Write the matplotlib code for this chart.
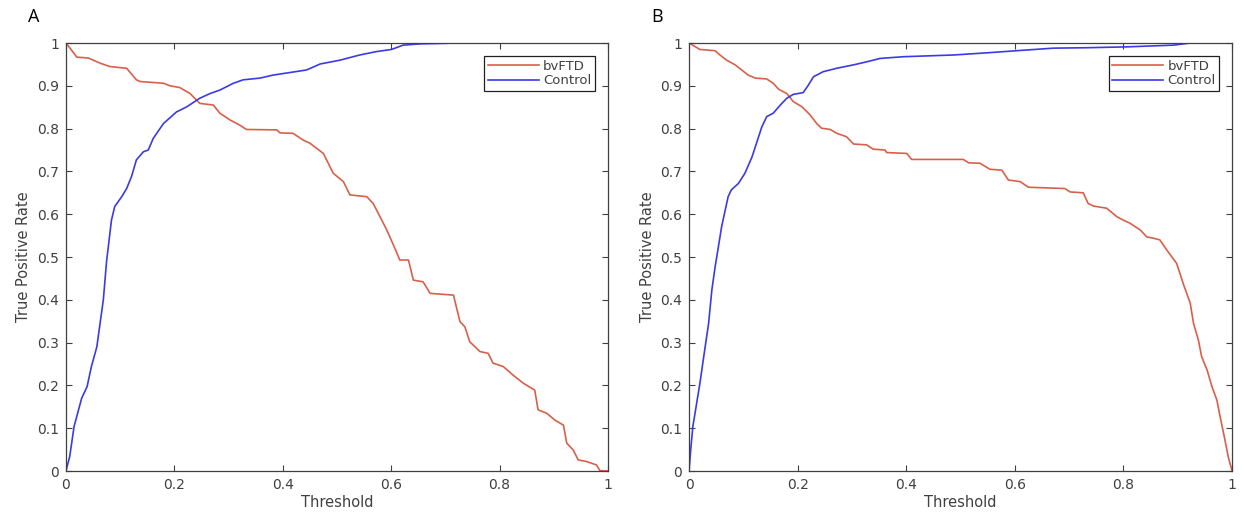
import numpy as np
import matplotlib
matplotlib.use("Agg")
import matplotlib.pyplot as plt

# panel A, bvFTD (threshold, TPR)
a_ftd_x = [0, 0.010, 0.020, 0.041, 0.063, 0.081, 0.112, 0.130, 0.137, 0.180, 0.192, 0.210,
           0.229, 0.247, 0.272, 0.284, 0.303, 0.321, 0.333, 0.389, 0.395, 0.419, 0.438,
           0.450, 0.475, 0.493, 0.512, 0.524, 0.555, 0.567, 0.592, 0.607, 0.616, 0.632,
           0.641, 0.659, 0.672, 0.715, 0.727, 0.736, 0.745, 0.764, 0.779, 0.788, 0.807,
           0.825, 0.844, 0.865, 0.871, 0.887, 0.902, 0.918, 0.924, 0.936, 0.945, 0.961,
           0.979, 0.985, 1.0]
a_ftd_y = [1.0, 0.984, 0.967, 0.965, 0.953, 0.945, 0.941, 0.914, 0.910, 0.906, 0.900, 0.896,
           0.882, 0.859, 0.855, 0.836, 0.820, 0.808, 0.798, 0.797, 0.790, 0.789, 0.773,
           0.766, 0.742, 0.696, 0.676, 0.645, 0.641, 0.625, 0.563, 0.520, 0.493, 0.493,
           0.446, 0.442, 0.415, 0.411, 0.349, 0.337, 0.302, 0.279, 0.275, 0.252, 0.244,
           0.224, 0.205, 0.189, 0.143, 0.135, 0.119, 0.107, 0.065, 0.049, 0.026, 0.022,
           0.014, 0.001, 0.0]

# panel A, Control
a_ctl_x = [0, 0.007, 0.015, 0.029, 0.039, 0.047, 0.057, 0.063, 0.069, 0.075, 0.084, 0.090,
           0.103, 0.112, 0.121, 0.130, 0.143, 0.152, 0.161, 0.180, 0.204, 0.223, 0.247,
           0.266, 0.284, 0.309, 0.327, 0.358, 0.382, 0.413, 0.444, 0.469, 0.506, 0.542,
           0.573, 0.601, 0.622, 0.653, 0.690, 0.720, 1.0]
a_ctl_y = [0, 0.034, 0.104, 0.170, 0.197, 0.244, 0.290, 0.345, 0.400, 0.490, 0.586, 0.618,
           0.641, 0.660, 0.688, 0.727, 0.746, 0.750, 0.777, 0.812, 0.839, 0.851, 0.871,
           0.882, 0.890, 0.906, 0.914, 0.918, 0.925, 0.931, 0.937, 0.951, 0.960, 0.972,
           0.980, 0.985, 0.995, 0.998, 0.999, 1.0, 1.0]

# panel B, bvFTD
b_ftd_x = [0, 0.020, 0.048, 0.057, 0.069, 0.085, 0.097, 0.109, 0.122, 0.143, 0.155, 0.165,
           0.180, 0.192, 0.208, 0.223, 0.235, 0.244, 0.260, 0.272, 0.290, 0.303, 0.327,
           0.339, 0.361, 0.364, 0.401, 0.410, 0.505, 0.515, 0.536, 0.554, 0.576, 0.588,
           0.610, 0.625, 0.692, 0.702, 0.726, 0.735, 0.745, 0.769, 0.788, 0.800, 0.812,
           0.831, 0.843, 0.855, 0.867, 0.880, 0.898, 0.910, 0.923, 0.929, 0.938, 0.944,
           0.954, 0.963, 0.972, 0.978, 0.987, 0.993, 1.0]
b_ftd_y = [1.0, 0.985, 0.982, 0.972, 0.960, 0.949, 0.937, 0.925, 0.918, 0.916, 0.906, 0.892,
           0.882, 0.863, 0.851, 0.832, 0.812, 0.801, 0.798, 0.789, 0.781, 0.764, 0.762,
           0.752, 0.750, 0.744, 0.742, 0.728, 0.728, 0.720, 0.719, 0.705, 0.703, 0.680,
           0.676, 0.663, 0.660, 0.652, 0.650, 0.625, 0.619, 0.614, 0.594, 0.586, 0.579,
           0.563, 0.547, 0.544, 0.540, 0.516, 0.485, 0.438, 0.392, 0.345, 0.306, 0.267,
           0.236, 0.197, 0.166, 0.127, 0.072, 0.033, 0.0]

# panel B, Control
b_ctl_x = [0, 0.003, 0.007, 0.011, 0.020, 0.027, 0.036, 0.042, 0.048, 0.051, 0.060, 0.072,
           0.078, 0.091, 0.103, 0.116, 0.125, 0.134, 0.143, 0.155, 0.168, 0.180, 0.192,
           0.210, 0.220, 0.229, 0.247, 0.272, 0.303, 0.327, 0.352, 0.395, 0.487, 0.548,
           0.603, 0.671, 0.732, 0.806, 0.892, 0.923, 1.0]
b_ctl_y = [0, 0.049, 0.104, 0.135, 0.205, 0.267, 0.345, 0.423, 0.477, 0.500, 0.571, 0.641,
           0.657, 0.672, 0.696, 0.734, 0.769, 0.804, 0.828, 0.836, 0.855, 0.871, 0.880,
           0.884, 0.902, 0.921, 0.933, 0.941, 0.949, 0.956, 0.964, 0.968, 0.972, 0.977,
           0.982, 0.988, 0.989, 0.991, 0.995, 1.0, 1.0]

ticks_x = [0, 0.2, 0.4, 0.6, 0.8, 1]
ticks_y = [0, 0.1, 0.2, 0.3, 0.4, 0.5, 0.6, 0.7, 0.8, 0.9, 1]
tick_lbl_x = ['0', '0.2', '0.4', '0.6', '0.8', '1']
tick_lbl_y = ['0', '0.1', '0.2', '0.3', '0.4', '0.5', '0.6', '0.7', '0.8', '0.9', '1']

red = '#d8604a'
blue = '#3b3be6'
gray = '#404040'

fig = plt.figure(figsize=(12.44, 5.22), dpi=100)
ax1 = fig.add_axes([0.053, 0.0977, 0.4357, 0.8199])
ax2 = fig.add_axes([0.5539, 0.0977, 0.4365, 0.8199])

panels = [(ax1, a_ftd_x, a_ftd_y, a_ctl_x, a_ctl_y, 'A'),
          (ax2, b_ftd_x, b_ftd_y, b_ctl_x, b_ctl_y, 'B')]

for ax, fx, fy, cx, cy, name in panels:
    ax.plot(fx, fy, color=red, lw=1.2, label='bvFTD')
    ax.plot(cx, cy, color=blue, lw=1.2, label='Control')
    ax.set_xlim(0, 1)
    ax.set_ylim(0, 1)
    ax.set_xticks(ticks_x)
    ax.set_xticklabels(tick_lbl_x)
    ax.set_yticks(ticks_y)
    ax.set_yticklabels(tick_lbl_y)
    ax.tick_params(direction='in', length=4, width=0.8, colors=gray, labelsize=10,
                   top=True, right=True, pad=5)
    for s in ax.spines.values():
        s.set_color(gray)
        s.set_linewidth(0.9)
    ax.set_xlabel('Threshold', fontsize=10.5, color=gray, labelpad=2)
    ax.set_ylabel('True Positive Rate', fontsize=10.5, color=gray, labelpad=4)
    leg = ax.legend(loc='upper right', fontsize=9.5, frameon=True, fancybox=False,
                    handlelength=3.9, handletextpad=0.3, borderpad=0.25,
                    labelspacing=0.15, borderaxespad=1.0, framealpha=1)
    leg.get_frame().set_edgecolor('#202020')
    leg.get_frame().set_linewidth(0.9)
    for t in leg.get_texts():
        t.set_color(gray)
    ax.text(-0.07, 1.06, name, transform=ax.transAxes, fontsize=13, color='black',
            family='Open Sans', ha='left', va='center')

fig.savefig('out.png', dpi=100)
